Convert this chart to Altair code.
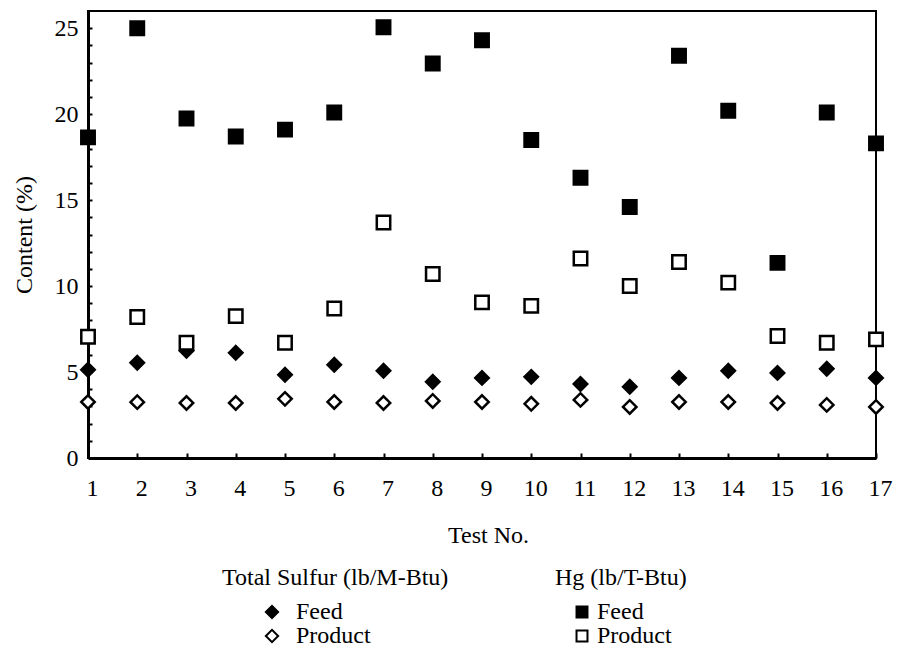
import altair as alt
import pandas as pd

tests = list(range(1, 18))
hg_feed = [18.65, 25.0, 19.75, 18.7, 19.1, 20.1, 25.05, 22.95, 24.3, 18.5,
           16.3, 14.6, 23.4, 20.2, 11.35, 20.1, 18.3]
hg_product = [7.05, 8.2, 6.7, 8.25, 6.7, 8.7, 13.7, 10.7, 9.05, 8.85,
              11.6, 10.0, 11.4, 10.2, 7.1, 6.7, 6.9]
s_feed = [5.13, 5.54, 6.24, 6.12, 4.84, 5.42, 5.07, 4.43, 4.66, 4.72,
          4.31, 4.14, 4.66, 5.07, 4.95, 5.19, 4.66]
s_product = [3.26, 3.25, 3.2, 3.2, 3.44, 3.26, 3.2, 3.32, 3.26, 3.15,
             3.38, 2.97, 3.26, 3.26, 3.2, 3.09, 2.97]
kinds = ["Feed", "Product"]
y_major = [0, 5, 10, 15, 20, 25]
y_minor = list(range(1, 26))

sulfur_df = pd.DataFrame({
    "Test": tests + tests,
    "Value": s_feed + s_product,
    "Kind": ["Feed"] * 17 + ["Product"] * 17,
})
hg_df = pd.DataFrame({
    "Test": tests + tests,
    "Value": hg_feed + hg_product,
    "Kind": ["Feed"] * 17 + ["Product"] * 17,
})

FONT = "Liberation Serif"
xscale = alt.Scale(domain=[1, 17], nice=False, zero=False)
yscale = alt.Scale(domain=[0, 26], nice=False, zero=True)

def legend(title, x, off, loff, ssize):
    return alt.Legend(
        title=title, orient="none", legendX=x, legendY=555,
        symbolOffset=off, labelOffset=loff, symbolSize=ssize,
        symbolStrokeColor="black", symbolStrokeWidth=2,
        titlePadding=10, rowPadding=-3, padding=0, titleLimit=500,
        labelLimit=300,
    )

def encodings(shape, leg):
    return dict(
        shape=alt.Shape("Kind:N", scale=alt.Scale(domain=kinds, range=[shape, shape]), legend=leg),
        fill=alt.Fill("Kind:N", scale=alt.Scale(domain=kinds, range=["black", "white"]), legend=leg),
        stroke=alt.Stroke("Kind:N", scale=alt.Scale(domain=kinds, range=["black", "black"]), legend=leg),
    )

leg_s = legend("Total Sulfur (lb/M-Btu)", 134, 38, 12, 150)
leg_h = legend("Hg (lb/T-Btu)", 467, 15, 3, 120)

sulfur = alt.Chart(sulfur_df).mark_point(
    strokeWidth=2.5, size=180, opacity=1
).encode(
    x=alt.X("Test:Q", scale=xscale, axis=alt.Axis(
        values=tests, title="Test No.", tickSize=0, domainWidth=3,
        labelPadding=18, titlePadding=23, labelFlush=False, orient="bottom",
        labelOffset=4, titleX=400)),
    y=alt.Y("Value:Q", scale=yscale, axis=alt.Axis(
        values=y_major, title="Content (%)", tickSize=0, domainWidth=3,
        labelPadding=10, titlePadding=18, orient="left")),
    **encodings("diamond", leg_s),
)

hg = alt.Chart(hg_df).mark_point(
    strokeWidth=2.5, size=180, opacity=1
).encode(
    x=alt.X("Test:Q", scale=xscale, axis=alt.Axis(
        values=tests, labels=False, domain=False, tickSize=5, tickWidth=2,
        offset=-5, title=None, orient="bottom")),
    y=alt.Y("Value:Q", scale=yscale, axis=alt.Axis(
        values=y_minor, labels=False, domain=False, tickSize=4, tickWidth=2,
        offset=-4, title=None, orient="left")),
    **encodings("square", leg_h),
)

chart = alt.layer(sulfur, hg).resolve_scale(
    shape="independent", fill="independent", stroke="independent"
).resolve_axis(
    x="independent", y="independent"
).properties(
    width=788, height=447,
    autosize=alt.AutoSizeParams(type="none"),
    padding={"left": 80, "top": 3, "right": 25, "bottom": 190},
    background="white",
).configure_axis(
    labelFont=FONT, titleFont=FONT, labelFontSize=24, titleFontSize=24,
    labelColor="black", titleColor="black", titleFontWeight="normal",
    domainColor="black", tickColor="black", grid=False,
).configure_legend(
    labelFont=FONT, titleFont=FONT, labelFontSize=24, titleFontSize=24,
    labelColor="black", titleColor="black", titleFontWeight="normal",
).configure_view(stroke="black", strokeWidth=2)

chart.save("out.html", embed_options={"renderer": "svg", "actions": False})
